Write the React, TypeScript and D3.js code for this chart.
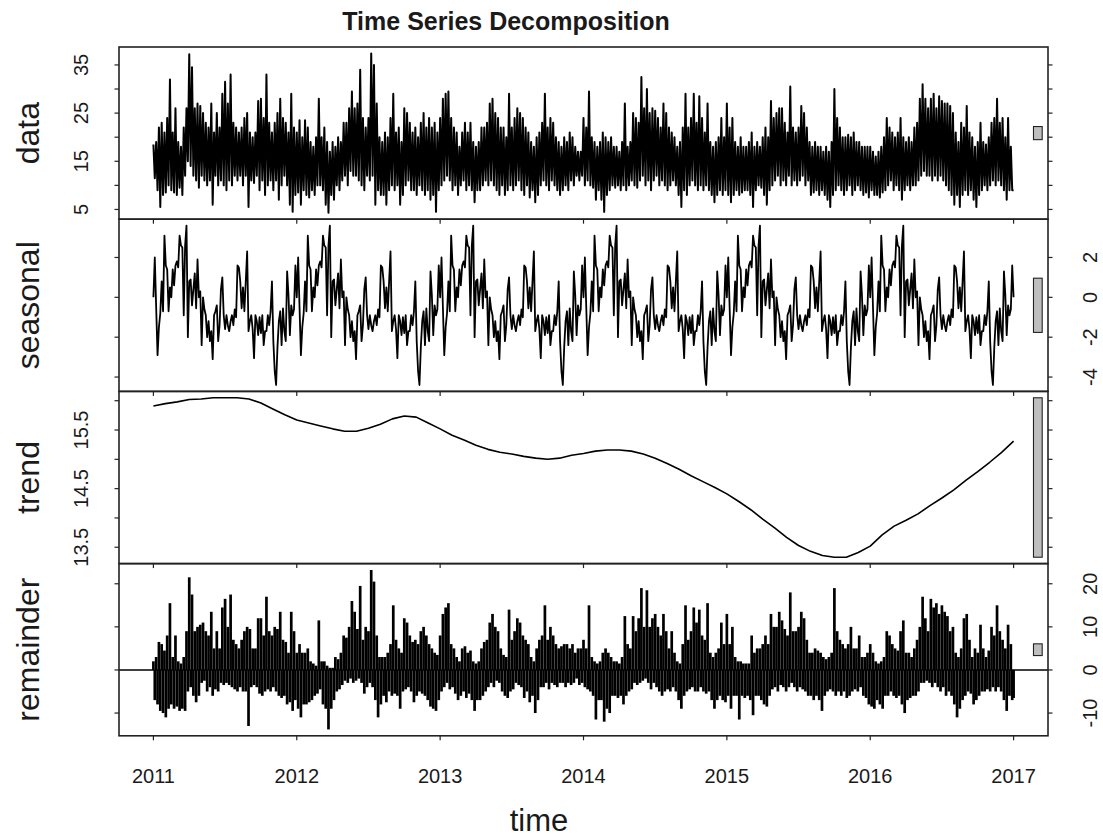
import React from 'react';
import * as d3 from 'd3';

// stl() decomposition, half-weekly samples (hi / lo alternating)
const years = [2011, 2012, 2013, 2014, 2015, 2016];

const data2011 = [18.5, 11.5, 19, 9, 22, 5.5, 23, 8, 21, 8.5, 24, 10, 32, 9, 21, 8.5, 26, 8, 19, 9.5, 18, 8, 22, 12, 26, 15, 37.2, 14, 34.5, 12, 26, 11, 27, 9.5, 26.5, 12, 25, 11, 23, 10, 22, 11, 27, 6, 21, 12, 25, 10, 22, 11, 29, 10, 31.5, 9, 27, 11, 33, 10, 23, 12, 22, 11, 21, 12, 22, 10, 24, 12, 25, 5.5, 21, 11, 20, 10.5, 21, 12, 27.5, 9, 28, 11, 24, 8, 33, 10, 23, 11, 21, 9, 23, 11, 25, 7, 28, 10, 24, 12, 23, 10, 21, 6, 29, 4.5, 22, 8];
const data2012 = [21, 8.5, 23.5, 6, 20, 9, 23.5, 8, 22, 7.5, 19, 9, 18, 8, 20, 10, 28, 10, 20, 9, 22, 6, 19, 4.3, 17, 8, 19, 7, 18, 10, 20, 9, 19, 11, 23, 12, 23, 10, 26, 13, 29.5, 12, 26, 12, 27, 11, 34, 10, 24, 9, 22, 12, 24, 11, 37.4, 12, 35, 6, 27, 9, 20, 8, 19, 8, 21, 6, 20, 9, 24, 10, 29, 9, 21, 10, 22, 6, 19, 8, 26, 10, 25, 11, 23, 9, 21, 9, 22, 8, 20, 10, 23, 9, 25, 8, 22, 9, 24, 7, 22, 8, 23, 4.5, 21, 9];
const data2013 = [24, 10, 28, 11, 29, 12, 29.5, 11, 24, 9, 22, 10, 21, 8, 18, 10, 21, 11, 23, 9, 21, 10, 23, 9, 19, 6.5, 18, 9, 19, 9, 22, 10, 22, 11, 23, 10, 27, 11, 28, 10, 25, 9, 24, 8, 22, 10, 22, 8, 20, 9, 29, 10, 22, 9, 24, 10, 26, 11, 25, 9, 24, 8, 22, 10, 21, 7.5, 19, 9, 18, 6.5, 20, 8, 21, 10, 23, 11, 29, 10, 22, 9, 24, 11, 23, 10, 20, 9, 19, 8, 18, 9, 20, 10, 19, 9, 21, 11, 20, 10, 18, 12, 17, 11, 17, 12];
const data2014 = [24, 10, 22, 11, 29.5, 10, 20, 9.5, 19, 7, 18, 9, 19, 7, 21, 4.5, 20, 8, 19, 9, 20, 10, 18, 9.5, 18, 10, 17, 9, 19, 10, 27, 9, 18, 10, 19, 11, 25, 10, 24, 9.5, 23, 11, 32.5, 12, 26, 10, 30, 11, 25, 9, 26, 11, 25.5, 12, 24, 10, 22, 11, 27, 10, 25, 9, 22, 10, 21, 11, 20, 10, 18, 8, 19, 5.5, 22, 9, 29, 8, 22, 10, 24, 11, 29, 10, 23, 9, 28.5, 10, 24, 9, 21, 10, 27, 9, 19, 8, 18, 6.5, 19, 8, 20, 9, 24, 8, 20, 9];
const data2015 = [27, 8, 22, 6.5, 24, 8, 19, 9, 18, 8, 20, 8.5, 18, 9, 18, 9, 19, 8, 21, 5.5, 18, 9, 19, 10, 18, 9.5, 20, 8, 22, 6, 20, 9, 27.5, 10, 24, 11, 25, 12, 26, 10, 26, 11, 23, 10, 21, 12, 30.5, 10, 22, 11, 21, 10, 22, 11, 26.5, 12, 25, 10, 22, 11, 19, 8, 18, 8.5, 19, 9, 18, 8, 18, 9, 17, 8, 18, 7, 17, 5.5, 19, 8, 30, 9, 24, 10, 22, 9, 20, 8, 20, 9, 20.5, 10, 20, 8, 21, 9, 19, 10, 19, 9, 18, 8, 18, 8.5, 18, 7.5];
const data2016 = [18, 9, 17, 8, 16, 8, 17, 7.5, 18, 8.5, 20, 9, 24, 10, 22, 11, 21, 9, 20, 10, 21, 9, 24, 7, 20, 9, 19, 10, 20, 9, 19, 10, 22, 10, 23, 11, 28, 12, 31, 13, 28, 12, 26, 12, 28, 11, 29, 12, 26, 11, 28.5, 12, 27.5, 11, 27, 10, 27, 9, 26.5, 8, 25, 6, 21, 8, 19, 5.5, 23, 8, 22, 9, 26.5, 8, 21, 9, 20, 7, 18, 5.5, 19, 8, 23, 9, 19, 10, 18.5, 9, 20, 10, 23, 11, 24, 10, 28, 11, 23, 10, 24, 9, 20, 7, 24, 9, 18, 9];
const dataLast = 9;

// one year of the periodic seasonal component
const seasonalCycle = [
  0.0, 2.0, -0.5, -2.9, -1.5, -0.8, 0.8, -0.7, 3.1, 1.6,
  1.4, -0.7, 0.5, 0.0, 1.4, 0.6, 1.6, 1.8, 1.5, 3.1,
  2.6, 2.5, -0.9, 2.6, 3.6, -2.0, 0.8, 0.9, -0.4, 0.4,
  1.2, -0.55, 1.9, 0.0, 0.3, -2.4, 0.0, -0.6, -0.9, -2.0,
  -1.2, -2.2, -1.7, -3.1, -0.9, -0.7, -0.4, -2.2, -1.4, 0.4,
  1.0, -0.9, -1.6, -0.9, -1.4, -1.7, -1.2, -0.9, -1.4, -0.6,
  -1.0, 1.6, 1.5, 0.8, -0.55, 0.5, -0.7, 0.8, 2.3, -1.7,
  -1.2, -0.9, -1.6, -3.05, -0.9, -1.2, -1.9, -1.0, -1.8, -0.9,
  -2.4, -1.7, -1.7, -0.9, -1.4, -0.7, 0.8, -2.2, -3.7, -4.4,
  -2.5, -1.2, -0.7, -2.4, -0.55, -1.7, -2.2, 1.3, 0.1, -1.9,
  -0.4, -0.9, -0.6, 1.6,
];

// monthly trend, Jan 2011 .. Jan 2017
const trendMonthly = [
  15.91, 15.95, 15.98, 16.02, 16.03, 16.05, 16.05, 16.05, 16.03, 15.96, 15.86, 15.76,
  15.67, 15.62, 15.57, 15.52, 15.48, 15.48, 15.53, 15.6, 15.69, 15.74, 15.72, 15.62,
  15.52, 15.41, 15.33, 15.24, 15.17, 15.12, 15.09, 15.05, 15.02, 15.0, 15.02, 15.07,
  15.1, 15.14, 15.16, 15.16, 15.14, 15.09, 15.02, 14.93, 14.83, 14.72, 14.62, 14.52,
  14.41, 14.28, 14.14, 13.98, 13.83, 13.67, 13.53, 13.43, 13.36, 13.33, 13.33, 13.41,
  13.52, 13.71, 13.86, 13.96, 14.07, 14.21, 14.34, 14.48, 14.64, 14.79, 14.95, 15.12,
  15.31,
];

const rem2011 = [2, -7, 3, -8, 6.5, -9.5, 6, -10, 4.5, -11, 8, -9, 15.5, -8, 3, -9, 8, -8.5, 2, -9.5, 1.5, -9, 3, -9.5, 9, -5, 21.5, -4, 17.5, -6, 9, -7.5, 10, -6, 10.5, -3, 11, -2.5, 9, -5, 8, -4, 13.5, -6, 5, -4.5, 9, -5, 5, -3, 14.5, -3.5, 16.5, -3, 10, -3.5, 17.5, -4, 7, -4.5, 6, -5, 5, -4, 7, -5, 9, -5, 10, -13, 9.5, -4, 5, -3.5, 5, -4, 12, -5.5, 12, -6, 8, -5, 17, -4.5, 9, -5, 8, -4, 10, -5, 9.5, -6, 13.5, -6.5, 7, -6, 6.5, -8, 4, -7.5, 13.5, -9.5, 9, -7];
const rem2012 = [4, -9, 6, -11, 4, -8, 4, -8, 5, -7.5, 2, -7, 1.5, -6, 1, -5.5, 11.5, -4.5, 2, -8, 2, -9, 1, -13.8, 0.5, -9, 0.5, -7, 3, -5, 2.5, -4.5, 4, -3.5, 8, -2.5, 7.5, -3, 10, -2, 16, -3, 13.5, -2.5, 9.5, -2, 19.5, -3, 7, -5.5, 10, -4, 9, -3, 23.2, -4, 20.5, -7, 8, -11, 3, -8, 3, -6, 3, -7.5, 4, -5, 6, -6, 15, -5.5, 7, -6, 5, -9, 4, -5, 12, -4.5, 11, -4, 8, -5, 6.5, -7.5, 7, -6, 6, -5, 9, -5.5, 10, -6, 8, -7, 6, -8.5, 5, -9, 4, -9.5, 3.5, -7];
const rem2013 = [8, -5, 13, -4, 14.5, -3, 15.5, -4.5, 6, -4, 5, -5.5, 3, -7, 2, -6, 5, -5, 5.5, -6.5, 4, -5.5, 4.5, -7, 2, -9.5, 1.5, -7, 2, -7, 5, -6, 6.5, -5, 7, -4, 11, -3, 13, -4, 10, -2.5, 9, -3, 5, -5, 3.5, -6, 3, -6.5, 14, -5, 7, -4.5, 9, -3, 12, -3.5, 11, -4, 8, -6.5, 7, -5, 6, -7.5, 3, -6, 2, -10, 5, -7, 7, -4, 8, -4, 15, -3, 7, -4.5, 10, -3, 8, -3.5, 6, -4, 5, -3, 5.5, -3, 6, -4, 6, -3, 5, -3.5, 6, -3, 4, -2, 5, -3.5, 5, -3];
const rem2014 = [7, -4, 5, -4.5, 15, -5, 3, -6, 2, -11.5, 1.5, -7, 2, -7, 4, -12, 5, -9, 4, -10, 3, -6, 2, -6, 2, -6.5, 1.5, -6, 3, -8, 12.5, -6, 6, -5, 5, -4.5, 12.5, -3, 9, -3.5, 12, -3, 19, -2.5, 10, -2, 18.5, -3, 10, -4.5, 12, -3, 13, -4, 10, -5, 8, -6, 13, -5, 9, -4.5, 5, -5, 9, -4, 4, -5, 2, -7, 1.5, -9, 6, -6, 15, -5, 7, -4.5, 9, -4, 14.5, -5, 11, -5, 14, -4, 8, -5, 7, -5.5, 15.5, -5, 4, -7, 3, -9, 4, -7, 5, -6, 11, -7, 6, -7.5];
const rem2015 = [13, -6, 6, -9, 10, -6, 3, -6, 2, -11.5, 2, -6, 1.5, -6.5, 1.5, -6, 1.5, -7, 8, -10.5, 4, -6, 5, -6, 5, -7, 6, -8, 8, -8.5, 6, -6, 13, -4.5, 10, -4, 10, -5, 13.5, -3.5, 11.5, -4, 9.5, -5, 8, -4, 18, -3, 9, -4, 9, -5, 10, -4, 13.5, -4.5, 12, -5, 7, -6, 4, -6, 4, -7, 5, -6, 4.5, -7, 4, -9.5, 3, -6, 2.5, -5, 3, -4.5, 4, -5, 19, -6, 9, -5, 7, -6, 6, -5, 5, -6.5, 6, -6, 10, -5, 5, -4.5, 5, -5, 8, -4, 3, -6, 3, -6.5, 4, -8];
const rem2016 = [6, -8.5, 4, -9, 2, -7, 1.5, -8, 2, -9, 3, -6, 9, -6, 8, -5, 6, -6, 5, -6.5, 4.5, -6, 9, -8, 11.5, -10, 4, -7, 4, -6.5, 3, -6, 5, -6, 7, -5, 10, -3, 17, -3, 12, -2.5, 9, -3, 16.5, -4, 14.5, -3, 15.5, -4, 13, -5, 15, -4, 13.5, -6, 12.5, -5, 9, -6, 10, -8, 4, -11, 3, -9, 5, -7, 12, -6, 13, -5, 7, -5.5, 3, -8, 5, -7, 4, -6, 10.5, -5, 5, -5, 3, -4.5, 4.5, -5, 10, -4, 8, -5, 15, -4, 9, -5, 7, -7, 5, -9.5, 10.5, -6, 6, -7];
const remLast = -6.5;

const yearTicks = [2011, 2012, 2013, 2014, 2015, 2016, 2017];
const panelNames = ['data', 'seasonal', 'trend', 'remainder'];
const tickCounts = [8, 6, 6, 4];

type Pt = { t: number; v: number };

const byYear = (rows: number[][], last: number): Pt[] => {
  const out: Pt[] = [];
  rows.forEach((row, yi) => row.forEach((v, i) => out.push({ t: years[yi] + i / row.length, v })));
  out.push({ t: years[years.length - 1] + 1, v: last });
  return out;
};

const series: Pt[][] = [
  byYear([data2011, data2012, data2013, data2014, data2015, data2016], dataLast),
  byYear(years.map(() => seasonalCycle), seasonalCycle[0]),
  trendMonthly.map((v, m) => ({ t: 2011 + m / 12, v })),
  byYear([rem2011, rem2012, rem2013, rem2014, rem2015, rem2016], remLast),
];

const FONT = "'Liberation Sans', Arial, Helvetica, sans-serif";
const INK = '#1a1a1a';
const X_LEFT = 119;
const X_RIGHT = 1048;
const TOP = 47;
const PANEL_H = 172.2;
const TICK = 4.5;
const TICK_FS = 20;

const x = d3.scaleLinear().domain([2011 - 0.24, 2017 + 0.24]).range([X_LEFT, X_RIGHT]);

const padded = (pts: Pt[]): [number, number] => {
  const [lo, hi] = d3.extent(pts, d => d.v) as [number, number];
  const pad = (hi - lo) * 0.04;
  return [lo - pad, hi + pad];
};

// the grey bars all share the height of the smallest panel range
const barRange = d3.min(series, s => {
  const [lo, hi] = d3.extent(s, d => d.v) as [number, number];
  return hi - lo;
}) as number;

const Panel: React.FC<{ idx: number }> = ({ idx }) => {
  const pts = series[idx];
  const top = TOP + idx * PANEL_H;
  const bottom = top + PANEL_H;
  const y = d3.scaleLinear().domain(padded(pts)).range([bottom, top]);
  const ticks = y.ticks(tickCounts[idx]);
  const labelsRight = idx % 2 === 1;

  // drop labels that would run into the previous one, like R's axis()
  let lastPos = Infinity;
  let lastHalf = 0;
  const shown = new Set<number>();
  ticks.forEach(t => {
    const half = (String(t).length * 0.556 * TICK_FS) / 2;
    const p = y(t);
    if (Math.abs(lastPos - p) >= lastHalf + half + 10) {
      shown.add(t);
      lastPos = p;
      lastHalf = half;
    }
  });

  const dx = (X_RIGHT - X_LEFT) / 64;
  const mid = (y.domain()[0] + y.domain()[1]) / 2;
  const cy = (top + bottom) / 2;
  const isLast = idx === 3;

  const line = d3.line<Pt>().x(d => x(d.t)).y(d => y(d.v));
  const widths = [2.0, 1.8, 1.6];

  return (
    <g>
      {isLast ? (
        <g stroke="#000" strokeWidth={2.7}>
          <line x1={X_LEFT} x2={X_RIGHT} y1={y(0)} y2={y(0)} strokeWidth={1.5} />
          {pts.map((d, i) => (
            <line key={i} x1={x(d.t)} x2={x(d.t)} y1={y(0)} y2={y(d.v)} />
          ))}
        </g>
      ) : (
        <path d={line(pts) || ''} fill="none" stroke="#000" strokeWidth={widths[idx]} strokeLinejoin="round" />
      )}

      <rect
        x={X_RIGHT - dx}
        width={0.6 * dx}
        y={y(mid + barRange / 2)}
        height={y(mid - barRange / 2) - y(mid + barRange / 2)}
        fill="#bebebe"
        stroke="#222"
        strokeWidth={1.1}
      />

      <rect x={X_LEFT} y={top} width={X_RIGHT - X_LEFT} height={PANEL_H} fill="none" stroke="#222" strokeWidth={1.6} />

      {ticks.map(t => (
        <g key={t} stroke="#222" strokeWidth={1.2}>
          <line x1={X_LEFT - TICK} x2={X_LEFT} y1={y(t)} y2={y(t)} />
          <line x1={X_RIGHT} x2={X_RIGHT + TICK} y1={y(t)} y2={y(t)} />
        </g>
      ))}
      {ticks.filter(t => shown.has(t)).map(t => (
        <text
          key={'l' + t}
          transform={`translate(${labelsRight ? 1097 : 88},${y(t)}) rotate(-90)`}
          textAnchor="middle"
          fontSize={TICK_FS}
          fill={INK}
        >
          {String(t)}
        </text>
      ))}

      {yearTicks.map(yr => (
        <line key={yr} x1={x(yr)} x2={x(yr)} y1={bottom} y2={bottom + TICK} stroke="#222" strokeWidth={1.2} />
      ))}
      {isLast &&
        yearTicks.map(yr => (
          <text key={'y' + yr} x={x(yr)} y={783} textAnchor="middle" fontSize={TICK_FS} fill={INK}>
            {yr}
          </text>
        ))}

      <text transform={`translate(39,${cy}) rotate(-90)`} textAnchor="middle" fontSize={32} fill={INK}>
        {panelNames[idx]}
      </text>
    </g>
  );
};

const App: React.FC = () => (
  <svg
    width={1103}
    height={838}
    style={{ position: 'absolute', left: 0, top: 0, background: '#fff' }}
    fontFamily={FONT}
  >
    <rect width={1103} height={838} fill="#fff" />
    <text x={506} y={30} textAnchor="middle" fontSize={25} fontWeight="bold" fill={INK}>
      Time Series Decomposition
    </text>
    {panelNames.map((_, i) => (
      <Panel key={i} idx={i} />
    ))}
    <text x={539} y={831} textAnchor="middle" fontSize={31} fill={INK}>
      time
    </text>
  </svg>
);

export default App;
